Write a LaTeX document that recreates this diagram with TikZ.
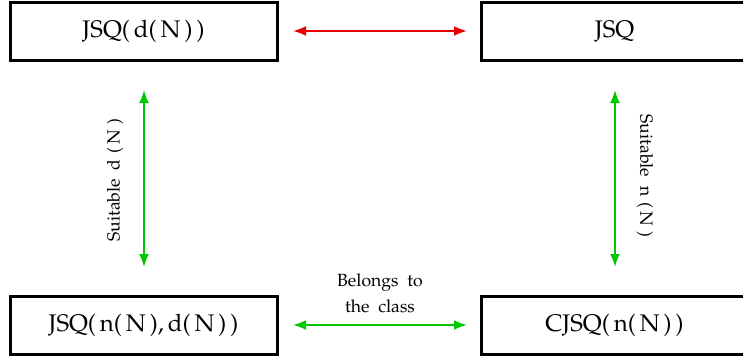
\documentclass[tikz,border=0pt]{standalone}
\usepackage[T1]{fontenc}
\usepackage{palatino}
\usetikzlibrary{arrows.meta}
\definecolor{arrgreen}{RGB}{0,200,0}
\definecolor{arrred}{RGB}{235,0,0}
\tikzset{
  box/.style={draw=black, line width=1.5pt, minimum width=133.5pt, minimum height=29pt, inner sep=0pt, font=\fontsize{12}{14}\selectfont},
  conn/.style={line width=1pt, {Latex[length=6.5pt,width=5pt]}-{Latex[length=6.5pt,width=5pt]}},
  lbl/.style={font=\fontsize{8.8}{12}\selectfont, align=center, inner sep=0pt}
}
\begin{document}
\begin{tikzpicture}[x=0.5pt,y=-0.5pt]
\useasboundingbox (0,0) rectangle (743,360);
\node[box] (tl) at (143.5,31) {JSQ(\,d(\,N\,)\,)};
\node[box] (tr) at (614.5,31) {JSQ};
\node[box] (bl) at (143.5,325) {JSQ(\,n(\,N\,),\,d(\,N\,)\,)};
\node[box] (br) at (614.5,325) {CJSQ(\,n(\,N\,)\,)};
\coordinate (a1) at (293,31); \coordinate (a2) at (467,31);
\coordinate (b1) at (293,325); \coordinate (b2) at (467,325);
\coordinate (l1) at (144,90); \coordinate (l2) at (144,267);
\coordinate (r1) at (615,90); \coordinate (r2) at (615,267);
\draw[conn, arrred] (a1) -- (a2);
\draw[conn, arrgreen] (b1) -- (b2);
\draw[conn, arrgreen] (l1) -- (l2);
\draw[conn, arrgreen] (r1) -- (r2);
\node[lbl] (lblb) at (380,293) {Belongs~ to\\[1pt]the~ class};
\node[lbl, rotate=90] (lbll) at (115,180) {Suitable~ d\,\,(\,N\,\,)};
\node[lbl, rotate=-90] (lblr) at (645,176) {Suitable~ n\,\,(\,N\,\,)};
\end{tikzpicture}
\end{document}
